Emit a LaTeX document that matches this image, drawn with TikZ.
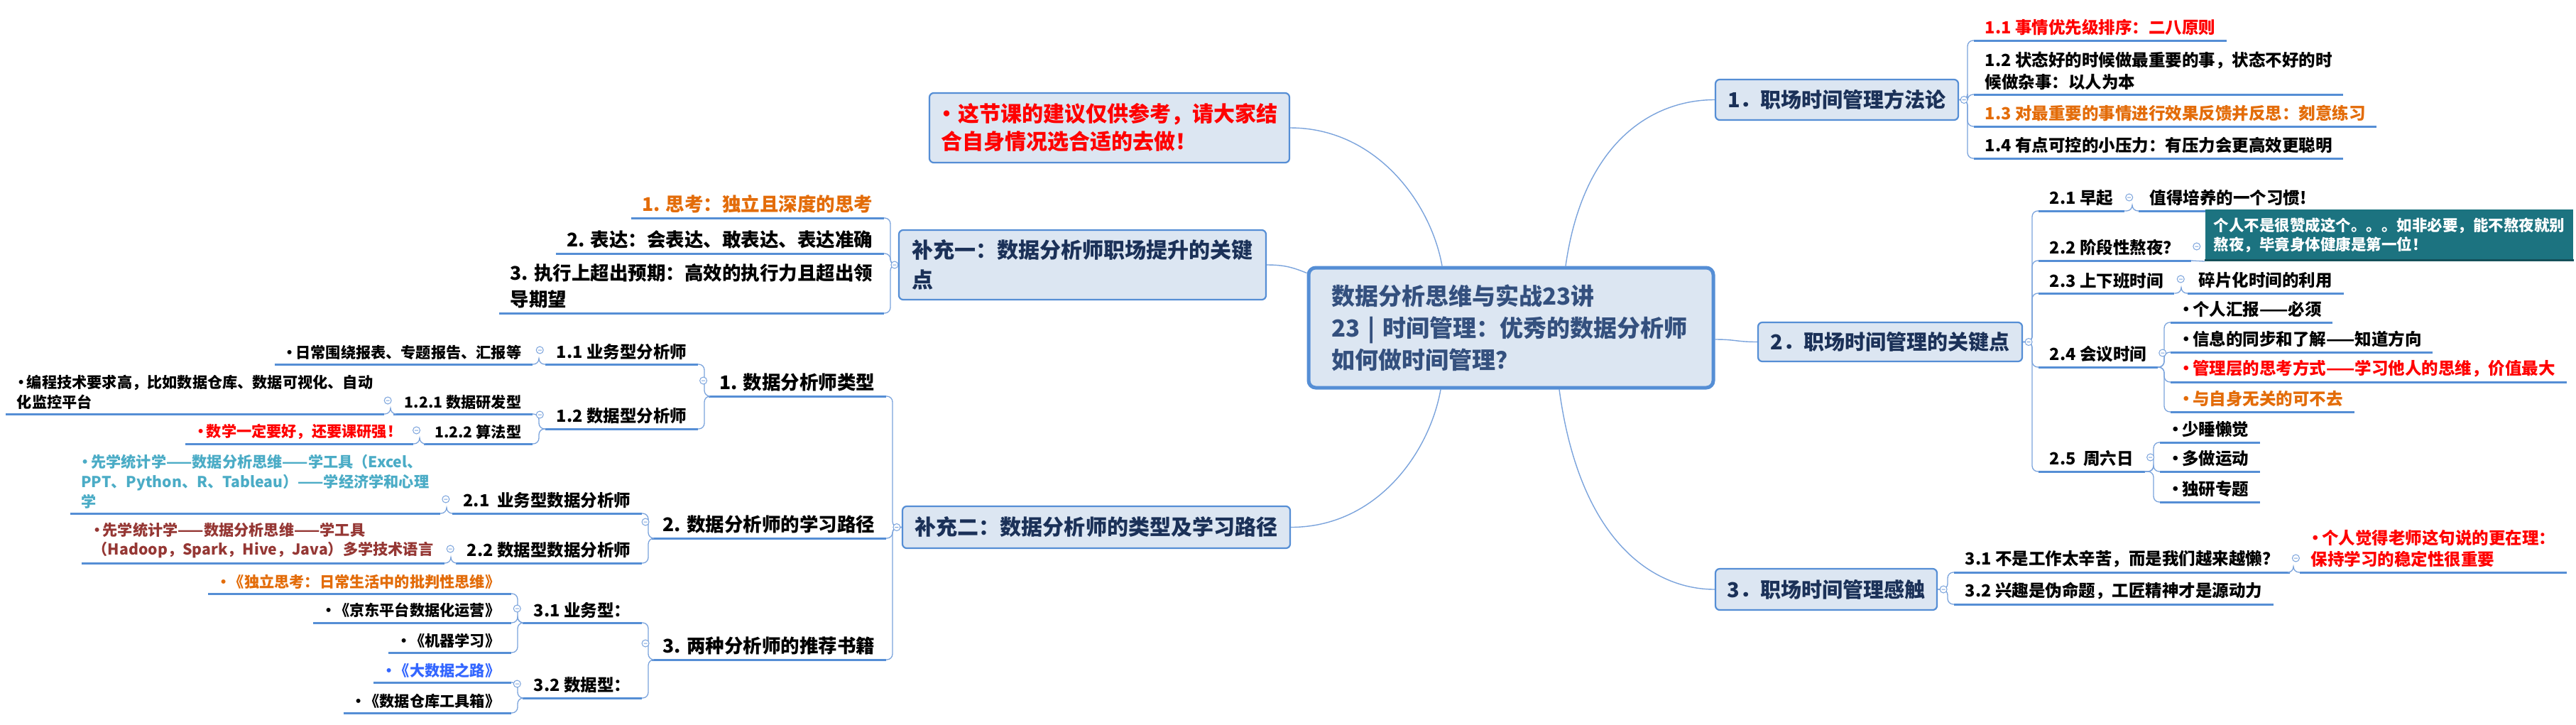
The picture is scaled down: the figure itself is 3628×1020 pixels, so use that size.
\documentclass[tikz,border=0pt]{standalone}
\usepackage{fontspec}
\setmainfont{Noto Sans CJK SC}
\usetikzlibrary{calc}
\pgfdeclarelayer{bg}
\pgfsetlayers{bg,main}
\definecolor{ulc}{HTML}{558ED5}
\definecolor{lnc}{HTML}{7AA3DC}
\definecolor{bxc}{HTML}{DCE6F2}
\definecolor{bdc}{HTML}{558ED5}
\definecolor{navy}{HTML}{1B3158}
\definecolor{ctext}{HTML}{34507E}
\definecolor{rd}{HTML}{FF0000}
\definecolor{org}{HTML}{E36C09}
\definecolor{tbl}{HTML}{4BACC6}
\definecolor{drd}{HTML}{953734}
\definecolor{blu}{HTML}{3366FF}
\definecolor{tealc}{HTML}{1C7380}
\newcommand\fsub{\fontsize{6.69pt}{8.54pt}\selectfont\bfseries}
\newcommand\fsm{\fontsize{6.03pt}{7.9pt}\selectfont\bfseries}
\newcommand\flv{\fontsize{7.54pt}{10.5pt}\selectfont\bfseries}
\newcommand\fmain{\fontsize{8.25pt}{10pt}\selectfont\bfseries}
\newcommand\fbx{\fontsize{8.54pt}{11.95pt}\selectfont\bfseries}
\newcommand\fcen{\fontsize{9.39pt}{12.8pt}\selectfont\bfseries}
\newcommand\fnote{\fontsize{8.54pt}{11.1pt}\selectfont\bfseries}
\newcommand\fteal{\fontsize{6.12pt}{7.6pt}\selectfont\bfseries}
\newcommand\bu{\hspace*{-0.22em}•\hspace{-0.12em}}
\tikzset{
  uline/.style={draw=ulc, line width=0.3mm},
  ritem/.style={anchor=south west, inner xsep=1.5mm, inner ysep=0.6mm, align=left, font=\fsub,
    append after command={(\tikzlastnode.south west) edge[uline] (\tikzlastnode.south east)}},
  litem/.style={ritem, anchor=south east},
  lv/.style={font=\flv},
  sm/.style={font=\fsm},
  br/.style={draw=lnc, line width=0.13mm, rounded corners=0.8mm},
  cn/.style={draw=lnc, line width=0.14mm},
  topic/.style={draw=bdc, fill=bxc, line width=0.22mm, rounded corners=0.6mm, inner sep=0, align=left},
  cmk/.style={draw=lnc, fill=white, line width=0.1mm},
}
\newcommand\rc[2]{\draw[br] (#1) -| ([xshift=-0.9mm]#2.south west) -- (#2.south west);}
\newcommand\lc[2]{\draw[br] (#1) -| ([xshift=0.9mm]#2.south east) -- (#2.south east);}
\newcommand\cm[1]{\draw[cmk] (#1) circle[radius=0.5mm] ++(-0.25mm,0) -- ++(0.5mm,0);}
\begin{document}
\begin{tikzpicture}[x=0.1mm,y=-0.1mm]
\useasboundingbox (0,0) rectangle (3628,1020);
\begin{pgfonlayer}{bg}
\fill[white] (0,0) rectangle (3628,1020);
\end{pgfonlayer}

% central and main topics
\node[topic, line width=0.5mm, rounded corners=1mm, minimum width=57mm, minimum height=16.9mm, inner xsep=3.2mm, text width=50.6mm, font=\fcen, text=ctext] (c) at (2128,461.5)
  {数据分析思维与实战23讲\\23 | 时间管理：优秀的数据分析师\\如何做时间管理？};
\node[topic, minimum width=34.2mm, minimum height=5.7mm, align=center, font=\fmain, text=navy] (m1) at (2587,140.5) {1．职场时间管理方法论};
\node[topic, minimum width=37.2mm, minimum height=5.5mm, align=center, font=\fmain, text=navy] (m2) at (2662,481.5) {2．职场时间管理的关键点};
\node[topic, minimum width=31.2mm, minimum height=5.8mm, align=center, font=\fmain, text=navy] (m3) at (2572,830) {3．职场时间管理感触};
\node[topic, minimum width=51.7mm, minimum height=9.8mm, font=\fbx, text=navy] (s1) at (1524.5,373) {补充一：数据分析师职场提升的关键\\点};
\node[topic, minimum width=54.6mm, minimum height=5.9mm, align=center, font=\fbx, text=navy] (s2) at (1544,742.5) {补充二：数据分析师的类型及学习路径};
\node[topic, minimum width=50.7mm, minimum height=9.8mm, font=\fnote, text=rd] (rn) at (1562.5,180) {\bu\,这节课的建议仅供参考，请大家结\\合自身情况选合适的去做！};

% right branch 1
\node[ritem, text=rd] (a11) at (2780,57) {1.1 事情优先级排序：二八原则};
\node[ritem] (a12) at (2780,133) {1.2 状态好的时候做最重要的事，状态不好的时\\候做杂事：以人为本};
\node[ritem, text=org] (a13) at (2780,178) {1.3 对最重要的事情进行效果反馈并反思：刻意练习};
\node[ritem] (a14) at (2780,223) {1.4 有点可控的小压力：有压力会更高效更聪明};

% right branch 2
\node[ritem] (b21) at (2871,297) {2.1 早起};
\node[ritem] (b21a) at (3012,297) {值得培养的一个习惯!};
\node[ritem] (b22) at (2871,367) {2.2 阶段性熬夜？};
\node[fill=tealc, text=white, font=\fteal, align=left, minimum width=51mm, minimum height=6.6mm, inner xsep=1.2mm, anchor=south west,
  append after command={([yshift=0.15mm]\tikzlastnode.south west) edge[draw=tealc!70!black, line width=0.3mm] ([yshift=0.15mm]\tikzlastnode.south east)}]
  (tb) at (3105,368) {个人不是很赞成这个。。。如非必要，能不熬夜就别\\熬夜，毕竟身体健康是第一位！};
\node[ritem] (b23) at (2871,413) {2.3 上下班时间};
\node[ritem] (b23a) at (3081,413) {碎片化时间的利用};
\node[ritem] (b24) at (2871,517) {2.4 会议时间};
\node[ritem] (b241) at (3057,454) {\bu 个人汇报——必须};
\node[ritem] (b242) at (3057,496) {\bu 信息的同步和了解——知道方向};
\node[ritem, text=rd] (b243) at (3057,538) {\bu 管理层的思考方式——学习他人的思维，价值最大};
\node[ritem, text=org] (b244) at (3057,580) {\bu 与自身无关的可不去};
\node[ritem] (b25) at (2871,664) {2.5\ \ 周六日};
\node[ritem] (b251) at (3042,623) {\bu 少睡懒觉};
\node[ritem] (b252) at (3042,664) {\bu 多做运动};
\node[ritem] (b253) at (3042,707) {\bu 独研专题};

% right branch 3
\node[ritem] (c31) at (2752,806) {3.1 不是工作太辛苦，而是我们越来越懒？};
\node[ritem, text=rd] (c31a) at (3239,806) {\bu 个人觉得老师这句说的更在理：\\保持学习的稳定性很重要};
\node[ritem] (c32) at (2752,851) {3.2 兴趣是伪命题，工匠精神才是源动力};

% left 补充一
\node[litem, lv, text=org] (d1) at (1245,307) {1. 思考：独立且深度的思考};
\node[litem, lv] (d2) at (1245,357) {2. 表达：会表达、敢表达、表达准确};
\node[litem, lv] (d3) at (1245,441) {3. 执行上超出预期：高效的执行力且超出领\\导期望};

% left 补充二
\node[litem, lv] (e1) at (1248,558) {1. 数据分析师类型};
\node[litem] (e11) at (983,513) {1.1 业务型分析师};
\node[litem, sm] (e11a) at (750,513) {\bu 日常围绕报表、专题报告、汇报等};
\node[litem] (e12) at (983,604) {1.2 数据型分析师};
\node[litem, sm] (e121) at (750,583) {1.2.1 数据研发型};
\node[litem, sm] (e121a) at (541,583) {\bu 编程技术要求高，比如数据仓库、数据可视化、自动\\化监控平台};
\node[litem, sm] (e122) at (750,625) {1.2.2 算法型};
\node[litem, sm, text=rd] (e122a) at (582,625) {\bu 数学一定要好，还要课研强！};

\node[litem, lv] (e2) at (1248,758) {2. 数据分析师的学习路径};
\node[litem] (e21) at (904,723) {2.1\ \ 业务型数据分析师};
\node[litem, sm, text=tbl] (e21a) at (620,723) {\bu 先学统计学——数据分析思维——学工具（Excel、\\PPT、Python、R、Tableau）——学经济学和心理\\学};
\node[litem] (e22) at (904,793) {2.2 数据型数据分析师};
\node[litem, sm, text=drd] (e22a) at (626,793) {\bu 先学统计学——数据分析思维——学工具\\（Hadoop，Spark，Hive，Java）多学技术语言};

\node[litem, lv] (e3) at (1248,929) {3. 两种分析师的推荐书籍};
\node[litem] (e31) at (904,877) {3.1 业务型：};
\node[litem, sm, text=org] (e311) at (720,836) {\bu 《独立思考：日常生活中的批判性思维》};
\node[litem, sm] (e312) at (720,877) {\bu 《京东平台数据化运营》};
\node[litem, sm] (e313) at (720,919) {\bu 《机器学习》};
\node[litem] (e32) at (904,983) {3.2 数据型：};
\node[litem, sm, text=blu] (e321) at (720,961) {\bu 《大数据之路》};
\node[litem, sm] (e322) at (720,1004) {\bu 《数据仓库工具箱》};

% connectors
\begin{pgfonlayer}{bg}
\draw[cn] ([xshift=-9.7mm]c.north) .. controls +(-0.16cm,0.9cm) and +(1.2cm,0) .. (rn.east);
\draw[cn] ([yshift=-1mm]c.north west) .. controls +(-0.2cm,0.08cm) and +(0.25cm,0) .. (s1.east);
\draw[cn] ([xshift=-9.9mm]c.south) .. controls +(-0.16cm,-0.9cm) and +(1.2cm,0) .. (s2.east);
\draw[cn] ([xshift=7.7mm]c.north) .. controls +(0.25cm,1.77cm) and +(-0.86cm,0) .. (m1.west);
\draw[cn] ([yshift=-1.65mm]c.east) .. controls +(0.3cm,0) and +(-0.3cm,0) .. (m2.west);
\draw[cn] ([xshift=6.8mm]c.south) .. controls +(0.29cm,-2.15cm) and +(-0.86cm,0) .. (m3.west);
\end{pgfonlayer}

\rc{m1.east}{a11} \rc{m1.east}{a12} \rc{m1.east}{a13} \rc{m1.east}{a14}
\rc{m2.east}{b21} \rc{m2.east}{b22} \rc{m2.east}{b23} \rc{m2.east}{b24} \rc{m2.east}{b25}
\rc{b21.south east}{b21a}
\draw[br] (b22.south east) -- (tb.south west);
\rc{b23.south east}{b23a}
\rc{b24.south east}{b241} \rc{b24.south east}{b242} \rc{b24.south east}{b243} \rc{b24.south east}{b244}
\rc{b25.south east}{b251} \rc{b25.south east}{b252} \rc{b25.south east}{b253}
\rc{m3.east}{c31} \rc{m3.east}{c32}
\rc{c31.south east}{c31a}

\lc{s1.west}{d1} \lc{s1.west}{d2} \lc{s1.west}{d3}
\lc{s2.west}{e1} \lc{s2.west}{e2} \lc{s2.west}{e3}
\lc{e1.south west}{e11} \lc{e1.south west}{e12}
\lc{e11.south west}{e11a}
\lc{e12.south west}{e121} \lc{e12.south west}{e122}
\lc{e121.south west}{e121a} \lc{e122.south west}{e122a}
\lc{e2.south west}{e21} \lc{e2.south west}{e22}
\lc{e21.south west}{e21a} \lc{e22.south west}{e22a}
\lc{e3.south west}{e31} \lc{e3.south west}{e32}
\lc{e31.south west}{e311} \lc{e31.south west}{e312} \lc{e31.south west}{e313}
\lc{e32.south west}{e321} \lc{e32.south west}{e322}

% collapse markers
\cm{[xshift=0.7mm]m1.east} \cm{[xshift=0.8mm]m2.east} \cm{[xshift=0.8mm]m3.east}
\cm{[xshift=-0.5mm]s1.west} \cm{[xshift=-0.7mm]s2.west}
\cm{[xshift=0.7mm,yshift=1.9mm]b21.south east}
\cm{[xshift=0.8mm,yshift=2mm]b22.south east}
\cm{[xshift=0.9mm,yshift=2mm]b23.south east}
\cm{[xshift=0.7mm,yshift=2mm]b24.south east}
\cm{[xshift=0.8mm,yshift=2mm]b25.south east}
\cm{[xshift=0.8mm,yshift=2mm]c31.south east}
\cm{[xshift=-0.7mm,yshift=2.2mm]e1.south west}
\cm{[xshift=-0.8mm,yshift=2mm]e11.south west}
\cm{[xshift=-0.8mm,yshift=2mm]e12.south west}
\cm{[xshift=-0.8mm,yshift=1.9mm]e121.south west}
\cm{[xshift=-1mm,yshift=1.9mm]e122.south west}
\cm{[xshift=-0.9mm,yshift=2.3mm]e2.south west}
\cm{[xshift=-0.9mm,yshift=2mm]e21.south west}
\cm{[xshift=-0.8mm,yshift=2mm]e22.south west}
\cm{[xshift=-0.9mm,yshift=2.3mm]e3.south west}
\cm{[xshift=-0.8mm,yshift=2mm]e31.south west}
\cm{[xshift=-0.8mm,yshift=2mm]e32.south west}
\end{tikzpicture}
\end{document}
